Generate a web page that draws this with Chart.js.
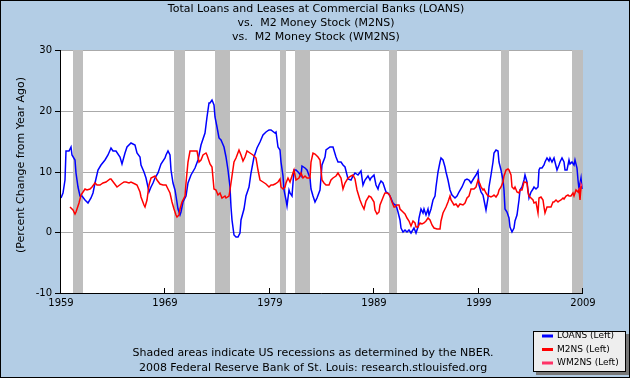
<!DOCTYPE html>
<html>
<head>
<meta charset="utf-8">
<script src="https://cdn.jsdelivr.net/npm/chart.js@4.4.0/dist/chart.umd.min.js"></script>
<style>
  html, body { margin: 0; padding: 0; background: #b3cde5; }
  #wrap { width: 630px; height: 378px; }
</style>
</head>
<body>
<div id="wrap"><canvas id="fred" width="630" height="378"></canvas></div>
<script>
// values (percent change from year ago)
const titleLines = [
  'Total Loans and Leases at Commercial Banks (LOANS)',
  'vs.  M2 Money Stock (M2NS)',
  'vs.  M2 Money Stock (WM2NS)'
];
const footerLines = [
  'Shaded areas indicate US recessions as determined by the NBER.',
  '2008 Federal Reserve Bank of St. Louis: research.stlouisfed.org'
];
const yTitle = '(Percent Change from Year Ago)';
const seriesLabels = ['LOANS (Left)', 'M2NS (Left)', 'WM2NS (Left)'];
const seriesColors = ['#0000ff', '#ff0000', '#ff3366'];

const xTicks = [1959, 1969, 1979, 1989, 1999, 2009];
const yTicks = [-10, 0, 10, 20, 30];

const recessionStart = [1960.15, 1969.82, 1973.75, 1979.98, 1981.42, 1990.39, 2001.15, 2007.95];
const recessionEnd   = [1961.11, 1970.88, 1975.16, 1980.52, 1982.86, 1991.19, 2001.88, 2009.0];

const loansYears = [
  1959.0, 1959.19, 1959.35, 1959.51, 1959.73, 1959.93, 1960.09, 1960.31, 1960.47, 1960.63, 1960.79,
  1961.01, 1961.27, 1961.59, 1961.84, 1962.07, 1962.29, 1962.55, 1962.87, 1963.19, 1963.5, 1963.76,
  1963.98, 1964.3, 1964.62, 1964.88, 1965.1, 1965.36, 1965.74, 1966.06, 1966.32, 1966.54, 1966.7,
  1966.96, 1967.18, 1967.4, 1967.59, 1967.82, 1968.04, 1968.3, 1968.62, 1968.93, 1969.09, 1969.25,
  1969.41, 1969.57, 1969.73, 1969.89, 1970.05, 1970.21, 1970.37, 1970.53, 1970.69, 1970.94, 1971.17,
  1971.49, 1971.81, 1972.12, 1972.44, 1972.76, 1972.99, 1973.15, 1973.31, 1973.47, 1973.63, 1973.79,
  1973.98, 1974.14, 1974.36, 1974.58, 1974.84, 1975.0, 1975.16, 1975.26, 1975.38, 1975.54, 1975.73,
  1975.96, 1976.12, 1976.28, 1976.5, 1976.76, 1977.01, 1977.24, 1977.46, 1977.78, 1978.1, 1978.35,
  1978.67, 1978.93, 1979.15, 1979.47, 1979.63, 1979.79, 1979.95, 1980.11, 1980.27, 1980.36, 1980.52,
  1980.68, 1980.81, 1980.94, 1981.13, 1981.32, 1981.55, 1981.77, 1981.96, 1982.12, 1982.34, 1982.6,
  1982.82, 1982.98, 1983.14, 1983.3, 1983.56, 1983.78, 1984.01, 1984.26, 1984.42, 1984.74, 1985.06,
  1985.32, 1985.54, 1985.79, 1986.02, 1986.24, 1986.5, 1986.75, 1986.98, 1987.2, 1987.46, 1987.71,
  1987.94, 1988.16, 1988.41, 1988.57, 1988.73, 1988.95, 1989.17, 1989.37, 1989.49, 1989.68, 1989.84,
  1990.0, 1990.16, 1990.32, 1990.55, 1990.77, 1990.96, 1991.12, 1991.28, 1991.44, 1991.6, 1991.73,
  1991.92, 1992.14, 1992.37, 1992.56, 1992.78, 1993.04, 1993.2, 1993.33, 1993.49, 1993.65, 1993.81,
  1993.97, 1994.16, 1994.29, 1994.48, 1994.64, 1994.8, 1994.92, 1995.08, 1995.28, 1995.44, 1995.6,
  1995.76, 1995.91, 1996.07, 1996.23, 1996.46, 1996.71, 1996.94, 1997.16, 1997.42, 1997.67, 1997.9,
  1998.12, 1998.31, 1998.53, 1998.76, 1998.92, 1999.07, 1999.23, 1999.39, 1999.55, 1999.71, 1999.87,
  2000.03, 2000.19, 2000.35, 2000.51, 2000.67, 2000.83, 2000.99, 2001.15, 2001.31, 2001.4, 2001.56,
  2001.72, 2001.88, 2002.04, 2002.2, 2002.36, 2002.52, 2002.68, 2002.84, 2003.0, 2003.16, 2003.32,
  2003.48, 2003.61, 2003.7, 2003.86, 2004.02, 2004.18, 2004.34, 2004.5, 2004.66, 2004.76, 2004.92,
  2005.08, 2005.24, 2005.4, 2005.56, 2005.72, 2005.87, 2006.03, 2006.19, 2006.35, 2006.51, 2006.67,
  2006.83, 2006.99, 2007.15, 2007.31, 2007.47, 2007.63, 2007.79, 2007.95, 2008.11, 2008.27, 2008.4,
  2008.53, 2008.65, 2008.78, 2008.91
];
const loansValues = [
  5.6, 6.4, 8.6, 13.3, 13.3, 14.1, 12.7, 11.9, 9.7, 7.5, 5.9,
  5.9, 5.3, 4.8, 5.6, 6.4, 8.1, 10.2, 11.1, 11.9, 12.7, 13.8,
  13.3, 13.3, 12.4, 11.2, 13.0, 14.1, 14.7, 14.4, 13.0, 12.4, 11.1,
  10.0, 8.9, 6.7, 7.5, 8.1, 8.9, 9.7, 11.3, 12.2, 12.7, 13.4,
  12.7, 10.2, 8.1, 7.0, 5.9, 3.9, 2.8, 3.4, 5.0, 5.9, 8.1,
  9.4, 10.5, 11.9, 14.4, 16.3, 19.0, 21.2, 21.2, 21.8, 20.9, 19.0,
  17.4, 15.5, 15.2, 14.1, 12.4, 10.2, 7.5, 4.2, 2.0, -0.5, -0.8,
  -0.7, -0.2, 2.0, 3.9, 5.9, 7.5, 9.7, 12.4, 13.8, 14.9, 16.0,
  16.5, 16.9, 16.8, 16.4, 16.5, 14.1, 13.5, 11.6, 9.2, 7.0, 5.3,
  4.3, 7.0, 6.4, 5.9, 10.2, 10.2, 9.7, 9.2, 10.9, 10.5, 10.2,
  8.9, 7.2, 5.9, 4.9, 5.6, 7.0, 11.1, 12.4, 13.5, 14.0, 14.1,
  12.4, 11.6, 11.6, 11.1, 10.8, 8.7, 8.6, 9.3, 9.7, 9.4, 10.1,
  7.8, 8.6, 9.3, 8.6, 8.9, 9.4, 7.8, 7.2, 7.8, 8.5, 8.1,
  7.2, 6.7, 6.4, 5.9, 4.8, 4.5, 4.5, 3.4, 2.0, 0.7, 0.1,
  0.3, 0.1, 0.3, -0.1, 0.7, -0.1, 0.9, 2.3, 3.9, 3.1, 3.9,
  2.8, 3.8, 2.8, 3.9, 5.3, 6.0, 7.5, 10.0, 11.6, 12.3, 11.9,
  10.8, 10.0, 8.6, 7.0, 6.1, 5.6, 5.9, 6.7, 7.5, 8.6, 8.7,
  8.6, 8.1, 8.9, 9.4, 10.1, 7.8, 6.7, 6.1, 5.3, 3.7, 5.6,
  7.5, 9.4, 11.6, 13.0, 13.6, 13.3, 11.6, 10.2, 8.6, 7.0, 3.9,
  3.4, 2.3, 0.9, 0.1, 0.7, 1.8, 2.8, 5.3, 7.0, 7.5, 8.6,
  9.4, 8.3, 7.0, 5.6, 6.7, 7.2, 7.5, 7.2, 7.5, 10.2, 10.5,
  10.5, 11.1, 11.6, 12.2, 11.8, 12.2, 11.6, 12.2, 11.5, 10.2, 11.1,
  11.6, 12.2, 11.6, 10.2, 10.2, 11.9, 11.3, 11.6, 11.1, 11.9, 10.5,
  8.6, 7.2, 8.9, 7.2
];

const m2Years = [
  1959.89, 1960.15, 1960.31, 1960.47, 1960.69, 1960.95, 1961.27, 1961.52, 1961.75, 1962.0, 1962.23,
  1962.48, 1962.71, 1963.03, 1963.35, 1963.66, 1963.82, 1964.08, 1964.4, 1964.72, 1965.04, 1965.26,
  1965.49, 1965.74, 1966.06, 1966.32, 1966.54, 1966.7, 1966.96, 1967.08, 1967.27, 1967.4, 1967.66,
  1967.98, 1968.23, 1968.46, 1968.78, 1969.03, 1969.25, 1969.47, 1969.66, 1969.82, 1969.98, 1970.11,
  1970.27, 1970.43, 1970.62, 1970.85, 1971.01, 1971.17, 1971.39, 1971.65, 1971.9, 1972.06, 1972.22,
  1972.38, 1972.6, 1972.86, 1973.02, 1973.24, 1973.5, 1973.63, 1973.88, 1974.04, 1974.27, 1974.46,
  1974.68, 1974.84, 1975.06, 1975.22, 1975.38, 1975.54, 1975.8, 1976.05, 1976.28, 1976.44, 1976.6,
  1976.82, 1977.14, 1977.4, 1977.65, 1977.88, 1978.1, 1978.35, 1978.67, 1978.93, 1979.15, 1979.31,
  1979.53, 1979.79, 1979.95, 1980.11, 1980.27, 1980.43, 1980.59, 1980.75, 1980.91, 1981.13, 1981.32,
  1981.55, 1981.77, 1981.96, 1982.18, 1982.41, 1982.6, 1982.82, 1982.98, 1983.14, 1983.37, 1983.62,
  1983.85, 1984.01, 1984.2, 1984.42, 1984.68, 1984.84, 1985.06, 1985.32, 1985.54, 1985.79, 1986.02,
  1986.24, 1986.5, 1986.75, 1986.98, 1987.2, 1987.39, 1987.62, 1987.84, 1988.03, 1988.25, 1988.48,
  1988.73, 1988.95, 1989.11, 1989.27, 1989.43, 1989.59, 1989.75, 1989.91, 1990.07, 1990.23, 1990.39,
  1990.55, 1990.71, 1990.87, 1991.03, 1991.19, 1991.35, 1991.51, 1991.73, 1991.92, 1992.14, 1992.37,
  1992.56, 1992.72, 1992.88, 1993.04, 1993.2, 1993.36, 1993.58, 1993.81, 1994.0, 1994.16, 1994.32,
  1994.54, 1994.76, 1995.02, 1995.28, 1995.44, 1995.6, 1995.76, 1995.91, 1996.07, 1996.23, 1996.39,
  1996.62, 1996.84, 1997.03, 1997.26, 1997.48, 1997.67, 1997.9, 1998.12, 1998.31, 1998.53, 1998.76,
  1998.93, 1999.1, 1999.23, 1999.39, 1999.55, 1999.71, 1999.87, 2000.03, 2000.19, 2000.35, 2000.51,
  2000.67, 2000.83, 2000.99, 2001.15, 2001.31, 2001.47, 2001.63, 2001.79, 2001.95, 2002.1, 2002.2,
  2002.36, 2002.52, 2002.68, 2002.84, 2003.0, 2003.16, 2003.32, 2003.48, 2003.64, 2003.77, 2003.86,
  2004.02, 2004.18, 2004.34, 2004.5, 2004.66, 2004.82, 2004.98, 2005.14, 2005.3, 2005.4, 2005.52,
  2005.72, 2005.94, 2006.1, 2006.26, 2006.42, 2006.58, 2006.74, 2006.9, 2007.06, 2007.22, 2007.38,
  2007.54, 2007.7, 2007.86, 2008.02, 2008.17, 2008.33, 2008.49, 2008.59, 2008.69, 2008.78, 2008.91
];
const m2Values = [
  4.1, 3.6, 3.0, 3.4, 4.8, 6.1, 7.2, 7.0, 7.2, 7.5, 8.1,
  7.8, 7.8, 8.1, 8.3, 8.8, 8.8, 8.1, 7.5, 7.9, 8.3, 8.3,
  8.1, 8.3, 7.9, 7.8, 6.7, 5.8, 4.5, 4.1, 5.3, 7.8, 9.0,
  9.3, 8.6, 7.9, 7.8, 7.8, 7.2, 6.4, 5.0, 3.9, 2.8, 2.5,
  2.8, 3.9, 5.0, 5.9, 8.1, 11.6, 13.3, 13.4, 13.3, 13.3, 11.6,
  11.9, 12.7, 13.1, 12.7, 11.3, 10.8, 7.2, 7.0, 6.1, 6.4, 5.6,
  6.0, 5.6, 5.9, 7.0, 9.2, 11.6, 12.2, 13.6, 12.7, 11.8, 12.4,
  13.4, 13.1, 12.7, 12.2, 10.2, 8.6, 8.3, 7.9, 7.5, 7.8, 7.8,
  7.9, 8.3, 8.7, 7.5, 7.1, 7.5, 8.1, 8.9, 8.3, 9.2, 10.2,
  8.6, 9.0, 9.8, 8.9, 9.3, 9.0, 9.0, 11.6, 13.0, 12.9, 12.4,
  11.9, 8.6, 8.1, 7.8, 7.8, 8.6, 8.9, 9.3, 9.7, 9.0, 7.2,
  8.1, 8.9, 9.3, 9.4, 8.7, 7.0, 5.3, 4.5, 3.9, 5.2, 6.0,
  5.8, 5.0, 3.7, 3.0, 3.4, 4.5, 5.3, 6.1, 6.4, 6.5, 6.3,
  5.9, 5.0, 4.2, 4.1, 4.5, 4.5, 3.9, 3.4, 3.0, 2.3, 1.8,
  1.0, 1.9, 1.6, 0.9, 0.9, 1.6, 1.4, 1.5, 1.8, 2.3, 2.0,
  1.2, 0.7, 0.5, 0.5, 1.8, 3.1, 3.9, 4.2, 5.0, 6.0, 5.3,
  4.5, 4.7, 4.2, 4.7, 4.5, 4.8, 5.6, 6.0, 7.1, 7.2, 7.5,
  8.6, 7.9, 7.5, 7.0, 7.2, 6.4, 5.9, 6.0, 5.8, 6.0, 6.1,
  5.8, 6.3, 7.0, 7.5, 8.2, 9.2, 10.2, 10.4, 10.2, 9.4, 7.5,
  7.2, 7.5, 6.7, 6.4, 7.0, 7.0, 8.3, 8.3, 8.1, 6.7, 5.9,
  5.6, 5.3, 4.8, 5.0, 3.2, 5.6, 5.8, 5.3, 4.2, 3.2, 4.1,
  4.1, 4.2, 5.0, 5.0, 5.3, 4.9, 5.2, 5.3, 5.6, 5.4, 5.9,
  6.1, 5.9, 6.0, 6.4, 6.0, 7.0, 6.7, 7.0, 5.3, 7.5, 7.5
];

const wm2Years  = [2008.55, 2008.62, 2008.7, 2008.78, 2008.85, 2008.95];
const wm2Values = [6.8, 7.2, 6.3, 7.4, 8.0, 7.6];

const toPoints = (xs, ys) => xs.map((x, i) => ({ x: x, y: ys[i] }));

const FONT = '"DejaVu Sans", Verdana, sans-serif';

const fredPlugin = {
  id: 'fred',
  beforeDraw(chart) {
    const { ctx, chartArea: a } = chart;
    ctx.save();
    ctx.fillStyle = '#b3cde5';
    ctx.fillRect(0, 0, chart.width, chart.height);
    ctx.fillStyle = '#ffffff';
    ctx.fillRect(a.left, a.top, a.right - a.left, a.bottom - a.top);
    ctx.restore();
  },
  beforeDatasetsDraw(chart) {
    const { ctx, chartArea: a, scales: { x } } = chart;
    ctx.save();
    ctx.fillStyle = '#bebebe';
    recessionStart.forEach((s, i) => {
      const x0 = Math.round(x.getPixelForValue(s));
      const x1 = Math.round(x.getPixelForValue(recessionEnd[i]));
      ctx.fillRect(x0, a.top, x1 - x0, a.bottom - a.top);
    });
    // axis lines + small inward ticks on the date axis
    ctx.strokeStyle = '#000';
    ctx.lineWidth = 1;
    ctx.beginPath();
    ctx.moveTo(a.left - 0.5, a.top);
    ctx.lineTo(a.left - 0.5, a.bottom + 0.5);
    ctx.lineTo(a.right, a.bottom + 0.5);
    xTicks.forEach(v => {
      const px = Math.round(x.getPixelForValue(v)) - 0.5;
      ctx.moveTo(px, a.bottom);
      ctx.lineTo(px, a.bottom - 5);
    });
    ctx.stroke();
    ctx.restore();
  },
  afterDraw(chart) {
    const { ctx } = chart;
    ctx.save();
    ctx.fillStyle = '#000';
    ctx.textBaseline = 'middle';
    ctx.textAlign = 'center';
    ctx.font = '11px ' + FONT;
    titleLines.forEach((t, i) => ctx.fillText(t, 316, 9.5 + i * 14));
    footerLines.forEach((t, i) => ctx.fillText(t, 313, 353 + i * 15));

    ctx.save();
    ctx.translate(21, 165);
    ctx.rotate(-Math.PI / 2);
    ctx.fillText(yTitle, 0, 0);
    ctx.restore();

    // legend box
    const lx = 533, ly = 331, lw = 93, lh = 41;
    ctx.fillStyle = '#777';
    ctx.fillRect(lx + 3, ly + 3, lw, lh);
    ctx.fillStyle = '#eeeeee';
    ctx.fillRect(lx, ly, lw, lh);
    ctx.strokeStyle = '#000';
    ctx.lineWidth = 1;
    ctx.strokeRect(lx + 0.5, ly + 0.5, lw - 1, lh - 1);
    ctx.textAlign = 'left';
    ctx.font = '9px ' + FONT;
    seriesLabels.forEach((lab, i) => {
      const yy = 336 + i * 13.5;
      ctx.strokeStyle = seriesColors[i];
      ctx.lineWidth = 3;
      ctx.beginPath();
      ctx.moveTo(542, yy);
      ctx.lineTo(553, yy);
      ctx.stroke();
      ctx.fillStyle = '#000';
      ctx.fillText(lab, 557, yy);
    });

    // outer frame
    ctx.strokeStyle = '#000';
    ctx.lineWidth = 1;
    ctx.strokeRect(0.5, 0.5, chart.width - 1, chart.height - 1);
    ctx.restore();
  }
};

new Chart('fred', {
  type: 'line',
  data: {
    datasets: [
      {
        label: seriesLabels[0],
        data: toPoints(loansYears, loansValues),
        borderColor: seriesColors[0],
        borderWidth: 1.5,
        pointRadius: 0,
        tension: 0,
        order: 2
      },
      {
        label: seriesLabels[1],
        data: toPoints(m2Years, m2Values),
        borderColor: seriesColors[1],
        borderWidth: 1.5,
        pointRadius: 0,
        tension: 0,
        order: 0
      },
      {
        label: seriesLabels[2],
        data: toPoints(wm2Years, wm2Values),
        borderColor: seriesColors[2],
        borderWidth: 1.5,
        pointRadius: 0,
        tension: 0,
        order: 1
      }
    ]
  },
  options: {
    responsive: false,
    animation: false,
    events: [],
    layout: { padding: { left: 0, top: 50, right: 47, bottom: 65 } },
    plugins: {
      legend: { display: false },
      tooltip: { enabled: false },
      title: { display: false }
    },
    scales: {
      x: {
        type: 'linear',
        min: 1959,
        max: 2009,
        alignToPixels: true,
        afterBuildTicks: scale => { scale.ticks = xTicks.map(v => ({ value: v })); },
        afterFit: scale => { scale.height = 20; },
        grid: { display: false, drawTicks: false },
        border: { display: false },
        ticks: {
          padding: 4,
          maxRotation: 0,
          autoSkip: false,
          color: '#000',
          font: { family: FONT, size: 10 },
          callback: v => String(v)
        }
      },
      y: {
        min: -10,
        max: 30,
        alignToPixels: true,
        afterBuildTicks: scale => { scale.ticks = yTicks.map(v => ({ value: v })); },
        afterFit: scale => { scale.width = 61; },
        grid: { color: '#aaaaaa', lineWidth: 1, tickLength: 6, tickColor: '#000' },
        border: { display: false },
        ticks: {
          padding: 3,
          color: '#000',
          font: { family: FONT, size: 10 },
          callback: v => String(v)
        }
      }
    }
  },
  plugins: [fredPlugin]
});
</script>
</body>
</html>
